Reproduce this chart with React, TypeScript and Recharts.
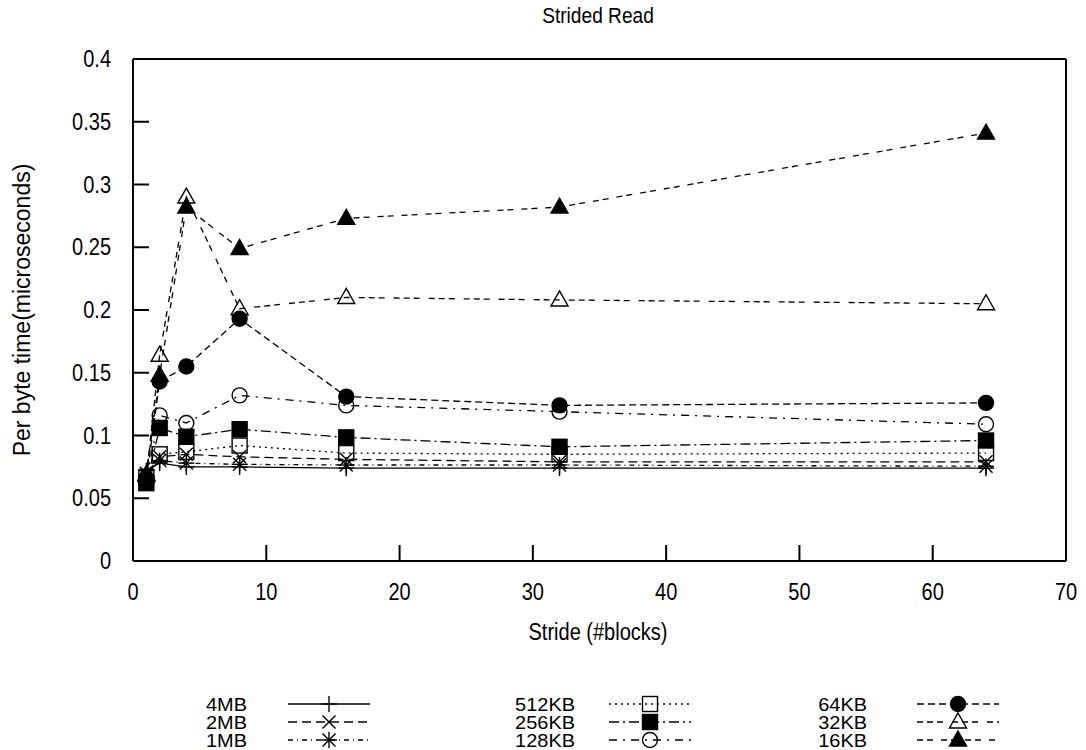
import React from 'react';
import { LineChart, Line, XAxis, YAxis } from 'recharts';

const strides = [1, 2, 4, 8, 16, 32, 64];

const seriesNames = ['4MB', '2MB', '1MB', '512KB', '256KB', '128KB', '64KB', '32KB', '16KB'];

const v4MB = [0.072, 0.078, 0.075, 0.075, 0.074, 0.074, 0.074];
const v2MB = [0.07, 0.083, 0.085, 0.083, 0.081, 0.079, 0.079];
const v1MB = [0.068, 0.08, 0.078, 0.077, 0.0765, 0.0765, 0.0755];
const v512KB = [0.067, 0.085, 0.087, 0.092, 0.086, 0.085, 0.086];
const v256KB = [0.062, 0.106, 0.099, 0.105, 0.0985, 0.091, 0.096];
const v128KB = [0.066, 0.116, 0.11, 0.132, 0.124, 0.119, 0.109];
const v64KB = [0.065, 0.143, 0.155, 0.193, 0.131, 0.124, 0.126];
const v32KB = [0.068, 0.164, 0.29, 0.201, 0.21, 0.208, 0.205];
const v16KB = [0.069, 0.148, 0.282, 0.249, 0.273, 0.282, 0.341];

const xTicks = [0, 10, 20, 30, 40, 50, 60, 70];
const yTicks = [0, 0.05, 0.1, 0.15, 0.2, 0.25, 0.3, 0.35, 0.4];
const yTickLabels = ['0', '0.05', '0.1', '0.15', '0.2', '0.25', '0.3', '0.35', '0.4'];

const titleText = 'Strided Read';
const xLabelText = 'Stride (#blocks)';
const yLabelText = 'Per byte time(microseconds)';

const seriesValues = [v4MB, v2MB, v1MB, v512KB, v256KB, v128KB, v64KB, v32KB, v16KB];
const seriesDash = ['', '9 5', '5 4 1 4', '2 4', '10 4 2 4', '8 6 2 6', '7 4', '6 4 6 4 6 9', '6 4 6 8'];
const seriesShape = ['plus', 'cross', 'star', 'square', 'fsquare', 'circle', 'fcircle', 'triangle', 'ftriangle'];

const FONT = '"Liberation Sans", Arial, Helvetica, sans-serif';
const SX = 0.87;
const FS = 23;

const data = strides.map((s, i) => {
  const row: Record<string, number> = { stride: s };
  seriesNames.forEach((n, k) => {
    row[n] = seriesValues[k][i];
  });
  return row;
});

function CText({
  x,
  y,
  anchor,
  size,
  rotate,
  sx,
  children,
}: {
  x: number;
  y: number;
  anchor: 'start' | 'middle' | 'end';
  size: number;
  rotate?: number;
  sx?: number;
  children: React.ReactNode;
}) {
  const tf = `translate(${x},${y})${rotate ? ` rotate(${rotate})` : ''} scale(${sx ?? SX},1)`;
  return (
    <g transform={tf}>
      <text x={0} y={0} textAnchor={anchor} dominantBaseline="central" fontFamily={FONT} fontSize={size} fill="#000">
        {children}
      </text>
    </g>
  );
}

function XTick(props: any) {
  const { x, y, payload } = props;
  return <CText x={x} y={y + 9} anchor="middle" size={FS}>{String(payload.value)}</CText>;
}

function YTick(props: any) {
  const { x, y, payload } = props;
  const idx = yTicks.indexOf(payload.value);
  const label = idx >= 0 ? yTickLabels[idx] : String(payload.value);
  return <CText x={x} y={y} anchor="end" size={FS}>{label}</CText>;
}

function Marker({ shape, cx, cy }: { shape: string; cx: number; cy: number }) {
  const sw = 1.4;
  const s = 8;
  const d = 6.5;
  switch (shape) {
    case 'plus':
      return (
        <g stroke="#000" strokeWidth={sw}>
          <line x1={cx - s} y1={cy} x2={cx + s} y2={cy} />
          <line x1={cx} y1={cy - s} x2={cx} y2={cy + s} />
        </g>
      );
    case 'cross':
      return (
        <g stroke="#000" strokeWidth={sw}>
          <line x1={cx - d} y1={cy - d} x2={cx + d} y2={cy + d} />
          <line x1={cx - d} y1={cy + d} x2={cx + d} y2={cy - d} />
        </g>
      );
    case 'star':
      return (
        <g stroke="#000" strokeWidth={sw}>
          <line x1={cx - s} y1={cy} x2={cx + s} y2={cy} />
          <line x1={cx} y1={cy - s} x2={cx} y2={cy + s} />
          <line x1={cx - d} y1={cy - d} x2={cx + d} y2={cy + d} />
          <line x1={cx - d} y1={cy + d} x2={cx + d} y2={cy - d} />
        </g>
      );
    case 'square':
      return <rect x={cx - 7.5} y={cy - 7.5} width={15} height={15} fill="none" stroke="#000" strokeWidth={sw} />;
    case 'fsquare':
      return <rect x={cx - 7.5} y={cy - 7.5} width={15} height={15} fill="#000" stroke="#000" strokeWidth={sw} />;
    case 'circle':
      return <circle cx={cx} cy={cy} r={7.5} fill="none" stroke="#000" strokeWidth={sw} />;
    case 'fcircle':
      return <circle cx={cx} cy={cy} r={7.5} fill="#000" stroke="#000" strokeWidth={sw} />;
    case 'triangle':
      return (
        <polygon
          points={`${cx},${cy - 9} ${cx + 8.5},${cy + 6} ${cx - 8.5},${cy + 6}`}
          fill="none"
          stroke="#000"
          strokeWidth={sw}
        />
      );
    case 'ftriangle':
      return (
        <polygon
          points={`${cx},${cy - 9} ${cx + 8.5},${cy + 6} ${cx - 8.5},${cy + 6}`}
          fill="#000"
          stroke="#000"
          strokeWidth={sw}
        />
      );
    default:
      return null;
  }
}

const makeDot = (shape: string) => (props: any) => {
  const { cx, cy, index } = props;
  if (cx == null || cy == null) return <g key={`d${index}`} />;
  return (
    <g key={`d${index}`}>
      <Marker shape={shape} cx={cx} cy={cy} />
    </g>
  );
};

const legendLabelRight = [247, 575, 867];
const legendMarkerX = [329, 650, 958];
const legendRowY = [704, 722, 740];

export default function App() {
  return (
    <div style={{ position: 'absolute', left: 0, top: 0, width: 1086, height: 750, background: '#fff' }}>
      <LineChart width={1086} height={750} data={data} margin={{ top: 0, right: 0, bottom: 0, left: 0 }}>
        <XAxis
          xAxisId="bottom"
          dataKey="stride"
          type="number"
          domain={[0, 70]}
          ticks={xTicks}
          orientation="bottom"
          height={189}
          tickSize={-16}
          tickMargin={38}
          axisLine={{ stroke: '#000', strokeWidth: 2 }}
          tickLine={{ stroke: '#000', strokeWidth: 2 }}
          tick={<XTick />}
          interval={0}
          allowDataOverflow
        />
        <XAxis
          xAxisId="top"
          dataKey="stride"
          type="number"
          domain={[0, 70]}
          ticks={xTicks}
          orientation="top"
          height={59}
          tickSize={-16}
          axisLine={{ stroke: '#000', strokeWidth: 2 }}
          tickLine={{ stroke: '#000', strokeWidth: 2 }}
          tick={false}
          interval={0}
          allowDataOverflow
        />
        <YAxis
          yAxisId="left"
          type="number"
          domain={[0, 0.4]}
          ticks={yTicks}
          orientation="left"
          width={133}
          tickSize={-16}
          tickMargin={38}
          axisLine={{ stroke: '#000', strokeWidth: 2 }}
          tickLine={{ stroke: '#000', strokeWidth: 2 }}
          tick={<YTick />}
          interval={0}
          allowDataOverflow
        />
        <YAxis
          yAxisId="right"
          type="number"
          domain={[0, 0.4]}
          ticks={yTicks}
          orientation="right"
          width={20}
          tickSize={-16}
          axisLine={{ stroke: '#000', strokeWidth: 2 }}
          tickLine={{ stroke: '#000', strokeWidth: 2 }}
          tick={false}
          interval={0}
          allowDataOverflow
        />
        {seriesNames.map((n, k) => (
          <Line
            key={n}
            xAxisId="bottom"
            yAxisId="left"
            type="linear"
            dataKey={n}
            name={n}
            stroke="#000"
            strokeWidth={1.3}
            strokeDasharray={seriesDash[k] || undefined}
            dot={makeDot(seriesShape[k])}
            activeDot={false}
            isAnimationActive={false}
          />
        ))}
      </LineChart>
      <svg width={1086} height={750} style={{ position: 'absolute', left: 0, top: 0, pointerEvents: 'none' }}>
        <CText x={598} y={15} anchor="middle" size={22}>{titleText}</CText>
        <CText x={598} y={632} anchor="middle" size={FS}>{xLabelText}</CText>
        <CText x={22} y={310} anchor="middle" size={FS} rotate={-90} sx={1}>{yLabelText}</CText>
        {seriesNames.map((n, k) => {
          const col = Math.floor(k / 3);
          const row = k % 3;
          const y = legendRowY[row];
          const mx = legendMarkerX[col];
          return (
            <g key={`lg${n}`}>
              <CText x={legendLabelRight[col]} y={y} anchor="end" size={19} sx={1.05}>{n}</CText>
              <line
                x1={mx - 41}
                y1={y}
                x2={mx + 41}
                y2={y}
                stroke="#000"
                strokeWidth={1.3}
                strokeDasharray={seriesDash[k] || undefined}
              />
              <Marker shape={seriesShape[k]} cx={mx} cy={y} />
            </g>
          );
        })}
      </svg>
    </div>
  );
}
